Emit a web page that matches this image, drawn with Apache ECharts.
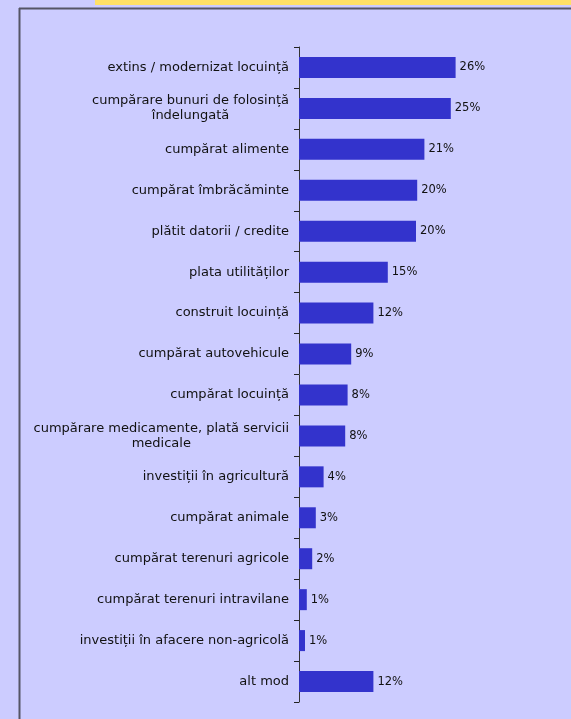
<!DOCTYPE html>
<html>
<head>
<meta charset="utf-8">
<script src="https://cdn.jsdelivr.net/npm/echarts@6/dist/echarts.min.js"></script>
<style>
  html, body { margin: 0; padding: 0; background: #ccccff; }
  #chart { width: 571px; height: 719px; }
</style>
</head>
<body>
<div id="chart"></div>
<script>
// categories, top to bottom
const categories = [
  'extins / modernizat locuință',
  'cumpărare bunuri de folosință\nîndelungată',
  'cumpărat alimente',
  'cumpărat îmbrăcăminte',
  'plătit datorii / credite',
  'plata utilităților',
  'construit locuință',
  'cumpărat autovehicule',
  'cumpărat locuință',
  'cumpărare medicamente, plată servicii\nmedicale',
  'investiții în agricultură',
  'cumpărat animale',
  'cumpărat terenuri agricole',
  'cumpărat terenuri intravilane',
  'investiții în afacere non-agricolă',
  'alt mod'
]
// percent
const values = [26.1, 25.3, 20.9, 19.7, 19.5, 14.8, 12.4, 8.7, 8.1, 7.7, 4.1, 2.8, 2.2, 1.3, 1.0, 12.4]

const font = 'DejaVu Sans, Verdana, sans-serif'

const chart = echarts.init(document.getElementById('chart'))
chart.setOption({
  backgroundColor: '#ccccff',
  animation: false,
  textStyle: { fontFamily: font },
  graphic: [
    { type: 'rect', shape: { x: 95, y: 0, width: 476, height: 5 }, style: { fill: '#ffe066' } },
    { type: 'line', shape: { x1: 19, y1: 8.5, x2: 571, y2: 8.5 }, style: { stroke: '#555566', lineWidth: 2 } },
    { type: 'line', shape: { x1: 19.5, y1: 8, x2: 19.5, y2: 719 }, style: { stroke: '#555566', lineWidth: 2 } }
  ],
  grid: { left: 299, top: 47, width: 180, height: 655, containLabel: false },
  xAxis: {
    type: 'value', min: 0, max: 30, show: false
  },
  yAxis: {
    type: 'category',
    inverse: true,
    data: categories,
    axisLine: { lineStyle: { color: '#333', width: 1 } },
    axisTick: { show: true, length: 5, lineStyle: { color: '#222' } },
    axisLabel: {
      margin: 10,
      color: '#111',
      fontFamily: font,
      fontSize: 13,
      formatter: v => v.split('\n').map(s => '{a|' + s + '}').join('\n'),
      rich: { a: { align: 'center', fontFamily: font, fontSize: 13, lineHeight: 15, color: '#111' } }
    }
  },
  series: [{
    type: 'bar',
    data: values,
    barWidth: 21,
    itemStyle: { color: '#3333cc' },
    label: {
      show: true,
      position: 'right',
      distance: 4,
      color: '#111',
      fontFamily: font,
      fontSize: 11.5,
      formatter: p => Math.round(p.value) + '%'
    }
  }]
})
</script>
</body>
</html>
